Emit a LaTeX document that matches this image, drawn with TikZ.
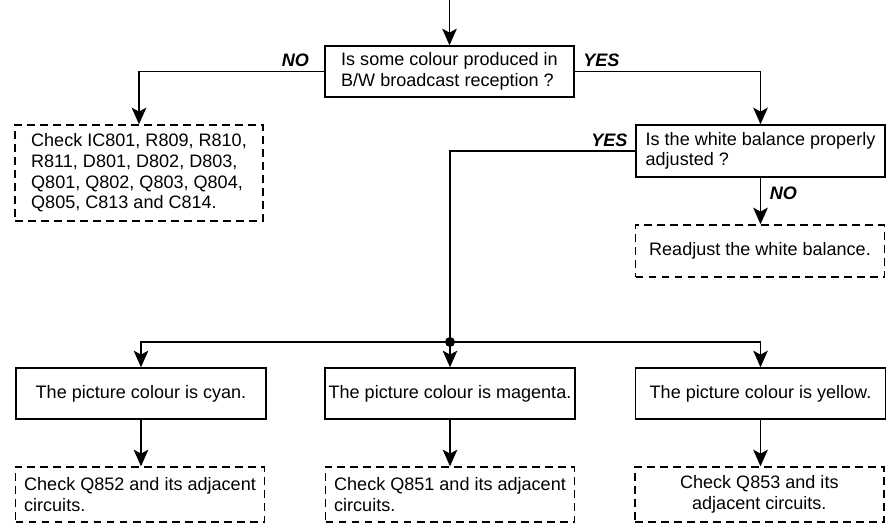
\documentclass[tikz,border=0pt]{standalone}
\usepackage{fontspec}
\setmainfont{Liberation Sans}
\usetikzlibrary{arrows.meta}

\begin{document}
\begin{tikzpicture}[x=1cm,y=1cm,>={Stealth[length=5mm,width=4.4mm,inset=1.2mm]},line width=1.2pt,
  font=\fontsize{15.4}{17.6}\selectfont,
  ask/.style={draw,align=left,minimum width=7.47cm,minimum height=1.53cm,inner sep=2pt},
  todo/.style={ask,dash pattern=on 6.8pt off 4.3pt},
  lbl/.style={font=\fontsize{15.4}{17.6}\selectfont\bfseries\itshape}]
\useasboundingbox (0,0) rectangle (26.76,15.69);
\coordinate (top) at (13.485,15.69);
\node[ask] (q1) at (13.485,13.545) {Is some colour produced in\\B/W broadcast reception ?};
\node[ask,minimum height=1.56cm] (q2) at (22.815,11.16) {Is the white balance properly\\adjusted ?};
\node[todo,minimum width=7.44cm,minimum height=2.88cm] (d1) at (4.17,10.5) {Check IC801, R809, R810,\\R811, D801, D802, D803,\\Q801, Q802, Q803, Q804,\\Q805, C813 and C814.};
\node[todo,minimum height=1.56cm] (d2) at (22.8,8.16) {Readjust the white balance.};
\coordinate (jn) at (13.5,5.43);
\node[ask,minimum width=7.5cm] (c1) at (4.23,3.885) {The picture colour is cyan.};
\node[ask,minimum width=7.5cm] (c2) at (13.5,3.885) {The picture colour is magenta.};
\node[ask,minimum width=7.5cm] (c3) at (22.815,3.885) {The picture colour is yellow.};
\node[todo,minimum height=1.65cm] (k1) at (4.2,0.855) {Check Q852 and its adjacent\\circuits.};
\node[todo,minimum height=1.65cm] (k2) at (13.5,0.855) {Check Q851 and its adjacent\\circuits.};
\node[todo,minimum height=1.65cm,align=center] (k3) at (22.78,0.855) {Check Q853 and its\\adjacent circuits.};
\draw[->] (top) -- (q1);
\draw[->] (q1.west) -| node[lbl,pos=0.078,above] {NO} (d1.north);
\draw[->] (q1.east) -| node[lbl,pos=0.072,above] {YES} (q2.north);
\draw (q2.west) -| node[lbl,pos=0.07,above] {YES} (jn);
\draw[->] (q2.south) -- node[lbl,pos=0.33,right,xshift=4pt] {NO} (q2.south |- d2.north);
\fill (jn) circle (0.15);
\draw[->] (jn) -| (c1.north);
\draw[->] (jn) -- (c2);
\draw[->] (jn) -| (c3.north);
\foreach \a/\b in {c1/k1,c2/k2,c3/k3}{
  \draw[->] (\a.south) -- (\a.south |- \b.north);}
\end{tikzpicture}
\end{document}
